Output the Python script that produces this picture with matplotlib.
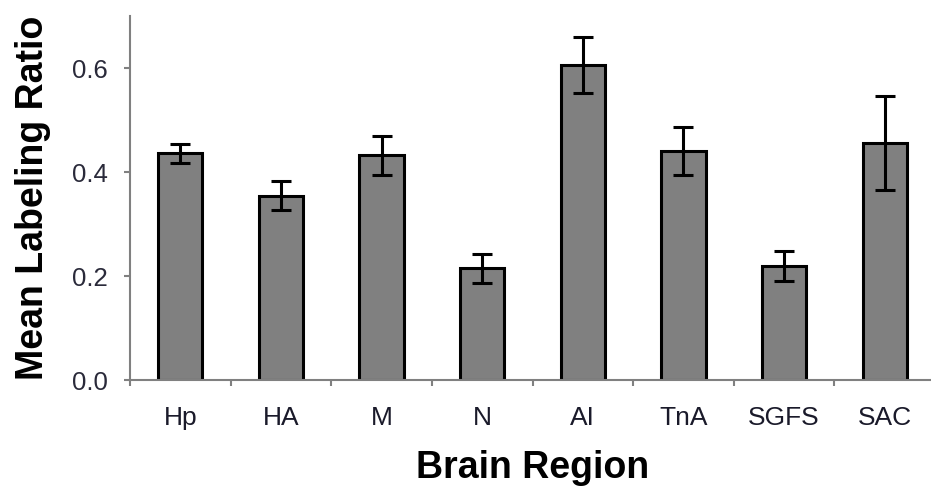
import numpy as np
import matplotlib.pyplot as plt
from matplotlib.ticker import FixedLocator

plt.rcParams['font.family'] = ['Liberation Sans', 'DejaVu Sans']

regions = ['Hp', 'HA', 'M', 'N', 'AI', 'TnA', 'SGFS', 'SAC']
means = [0.436, 0.354, 0.432, 0.215, 0.605, 0.441, 0.220, 0.456]
errs = [0.018, 0.028, 0.038, 0.028, 0.054, 0.046, 0.029, 0.090]

fig = plt.figure(figsize=(9.31, 4.94), dpi=100)
ax = fig.add_axes([130 / 931, 1 - 380 / 494, 805 / 931, 364 / 494])

x = np.arange(len(regions))
ax.bar(x, means, width=0.44, color='#808080', edgecolor='black', linewidth=2.2,
       yerr=errs, capsize=7.5, error_kw=dict(ecolor='black', elinewidth=2.2, capthick=2.2),
       zorder=2)

ax.set_xlim(-0.5, 7.5)
ax.set_ylim(0, 0.7)
ax.set_yticks([0.0, 0.2, 0.4, 0.6])
ax.set_yticklabels(['0.0', '0.2', '0.4', '0.6'])
ax.set_xticks(x)
ax.set_xticklabels(regions)
ax.xaxis.set_minor_locator(FixedLocator(np.arange(-0.5, 8, 1.0)))

ax.tick_params(axis='x', which='major', length=0, pad=19, labelsize=19, labelcolor='#1a1a2a')
ax.tick_params(axis='x', which='minor', length=4, width=1.5, color='#808080', direction='out')
ax.tick_params(axis='y', length=4, width=1.5, color='#808080', pad=12, labelsize=18.5, labelcolor='#2a2a3a')

for s in ['top', 'right']:
    ax.spines[s].set_visible(False)
for s in ['left', 'bottom']:
    ax.spines[s].set_color('#808080')
    ax.spines[s].set_linewidth(1.5)

ax.set_xlabel('Brain Region', fontsize=27, fontweight='bold', labelpad=14)
ax.set_ylabel('Mean Labeling Ratio', fontsize=27, fontweight='bold', labelpad=15)

fig.savefig('out.png', dpi=100)
